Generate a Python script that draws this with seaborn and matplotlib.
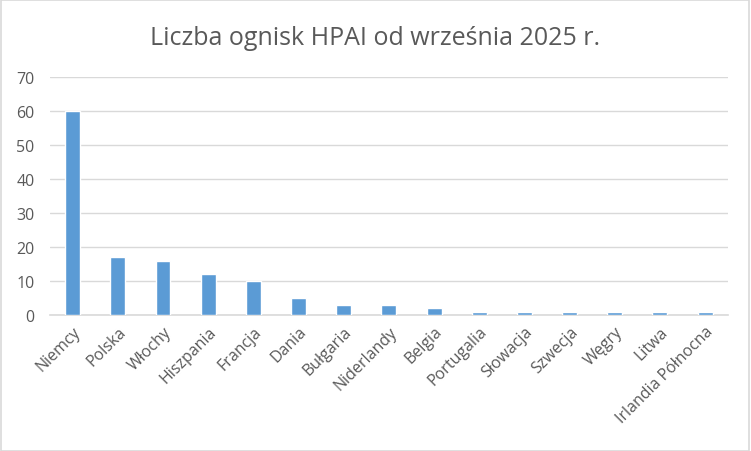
import matplotlib
matplotlib.use("Agg")
import matplotlib.pyplot as plt
import seaborn as sns
import pandas as pd
from matplotlib.patches import Rectangle

countries = ["Niemcy", "Polska", "Włochy", "Hiszpania", "Francja", "Dania", "Bułgaria",
             "Niderlandy", "Belgia", "Portugalia", "Słowacja", "Szwecja", "Węgry", "Litwa",
             "Irlandia Północna"]
outbreaks = [60, 17, 16, 12, 10, 5, 3, 3, 2, 1, 1, 1, 1, 1, 1]

df = pd.DataFrame({"kraj": countries, "ogniska": outbreaks})

sns.set_theme(style="white")
plt.rcParams['font.family'] = ['Open Sans', 'DejaVu Sans']

fig = plt.figure(figsize=(7.51, 4.52), dpi=100)
ax = fig.add_axes([0.0666, 0.301, 0.9024, 0.526])

sns.barplot(data=df, x="kraj", y="ogniska", color="#5b9bd5", width=0.33,
            saturation=1, ax=ax, zorder=3)

ax.set_ylim(0, 70)
ax.set_yticks(range(0, 71, 10))
ax.set_xlim(-0.5, len(countries) - 0.5)
ax.grid(axis="y", color="#d9d9d9", linewidth=1, zorder=0)
ax.set_axisbelow(True)
for s in ["left", "right", "top"]:
    ax.spines[s].set_visible(False)
ax.spines["bottom"].set_color("#d9d9d9")
ax.spines["bottom"].set_linewidth(1.2)
ax.set_xlabel("")
ax.set_ylabel("")
ax.tick_params(axis="both", length=0, colors="#595959", labelsize=11.5)
ax.tick_params(axis="y", pad=11)
ax.tick_params(axis="x", pad=6)
plt.setp(ax.get_xticklabels(), rotation=45, ha="right", rotation_mode="anchor")

fig.text(0.5, 0.915, "Liczba ognisk HPAI od września 2025 r.", ha="center", va="center",
         fontsize=18, color="#595959")

fig.patches.append(Rectangle((0.001, 0.001), 0.997, 0.996, transform=fig.transFigure,
                             fill=False, edgecolor="#d9d9d9", linewidth=1.2))

fig.savefig("out.png", dpi=100)
